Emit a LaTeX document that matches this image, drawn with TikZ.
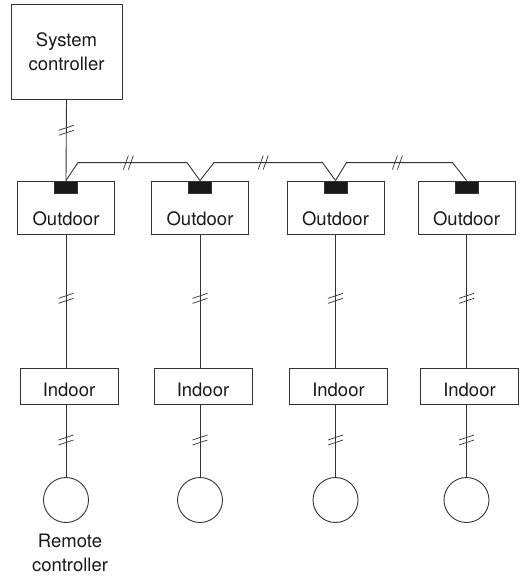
\documentclass[tikz,border=0pt]{standalone}
\usepackage{fontspec}
\setmainfont{TeX Gyre Heros}
\usetikzlibrary{decorations.markings}

\definecolor{inkgray}{HTML}{333333}
\tikzset{
  wire/.style={line width=0.9pt, draw=inkgray},
  unitbox/.style={draw=inkgray, line width=0.9pt, inner sep=0pt},
  unittext/.style={font=\fontsize{18.5}{24}\selectfont, text=black!90},
  brkline/.style={line width=0.7pt, draw=inkgray},
  % break marks on a line going down
  vbrk/.style={postaction={decorate,decoration={markings,mark=at position #1 with {
      \draw[brkline] (0pt,-7.5pt) -- (-5pt,7.5pt);
      \draw[brkline] (5pt,-7.5pt) -- (0pt,7.5pt);}}}},
  % break marks on a line going right
  hbrk/.style={postaction={decorate,decoration={markings,mark=at position #1 with {
      \draw[brkline] (-5pt,-7pt) -- (0pt,7pt);
      \draw[brkline] (0pt,-7pt) -- (5pt,7pt);}}}}
}

\begin{document}
\begin{tikzpicture}[x=1pt,y=-1pt]
  \useasboundingbox (0,0) rectangle (521,579);

  \node[unitbox,unittext,minimum width=111pt,minimum height=95pt,align=center]
    (sys) at (66.5,51.5) {System\\controller};

  \foreach \n/\xl in {1/66, 2/200, 3/335.5, 4/466.5} {
    \node[unitbox,minimum width=97pt,minimum height=53pt,
      label={[unittext,yshift=-11.5pt]center:Outdoor}] (o\n) at (\xl,207.5) {};
    \node[unitbox,fill=black!90,minimum width=23pt,minimum height=12pt,anchor=north]
      (b\n) at (o\n.north) {};
    \node[unitbox,minimum width=98pt,minimum height=36pt,
      label={[unittext,yshift=-3.5pt]center:Indoor}] (i\n) at (\xl+3,386) {};
    \node[unitbox,circle,minimum size=45pt] (r\n) at (\xl,500) {};
    \draw[wire,vbrk=0.48] (o\n.south) -- (o\n.south |- i\n.north);
    \draw[wire,vbrk=0.49] (i\n.south -| r\n) -- (r\n.north);
  }

  \node[unittext,align=center] (rlbl) at (70,552.5) {Remote\\controller};

  \draw[wire,vbrk=0.38] (sys.south) -- (b1.north);

  % bus between the outdoor units
  \draw[wire,hbrk=72pt] (b1.north) -- ++(12,-18) -- ([xshift=-13pt,yshift=18pt]b2.north) -- (b2.north);
  \draw[wire,hbrk=72pt] (b2.north) -- ++(14,-18) -- ([xshift=-13pt,yshift=18pt]b3.north) -- (b3.north);
  \draw[wire,hbrk=72pt] (b3.north) -- ++(11,-18) -- ([xshift=-14pt,yshift=18pt]b4.north) -- (b4.north);
\end{tikzpicture}
\end{document}
